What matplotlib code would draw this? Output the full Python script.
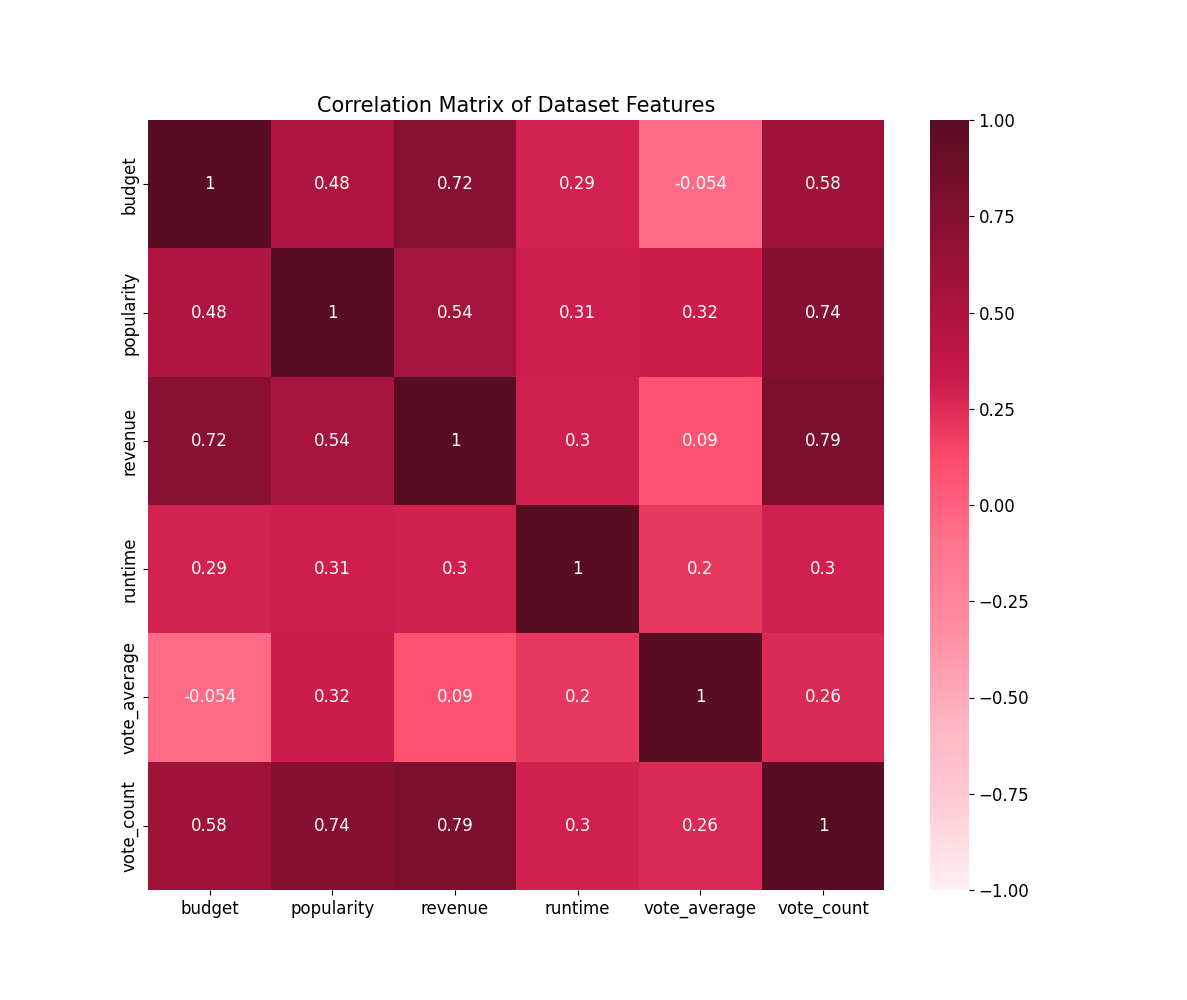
import numpy as np
import pandas as pd
import matplotlib
matplotlib.use("Agg")
import matplotlib.pyplot as plt
import seaborn as sns
from matplotlib.colors import LinearSegmentedColormap

features = ["budget", "popularity", "revenue", "runtime", "vote_average", "vote_count"]

budget = [1, 0.48, 0.72, 0.29, -0.054, 0.58]
popularity = [0.48, 1, 0.54, 0.31, 0.32, 0.74]
revenue = [0.72, 0.54, 1, 0.3, 0.09, 0.79]
runtime = [0.29, 0.31, 0.3, 1, 0.2, 0.3]
vote_average = [-0.054, 0.32, 0.09, 0.2, 1, 0.26]
vote_count = [0.58, 0.74, 0.79, 0.3, 0.26, 1]

corr = pd.DataFrame([budget, popularity, revenue, runtime, vote_average, vote_count],
                    index=features, columns=features)

# pink palette
colors = ["#fff0f3", "#ffccd5", "#ffb3c1", "#ff8fa3", "#ff758f",
          "#ff4d6d", "#c9184a", "#a4133c", "#800f2f", "#590d22"]
cmap = LinearSegmentedColormap.from_list("pinks", colors)

plt.figure(figsize=(11.87, 10))
sns.heatmap(corr, annot=True, cmap=cmap, vmin=-1, vmax=1,
            annot_kws={"size": 12})
plt.title("Correlation Matrix of Dataset Features", fontsize=15)
plt.xticks(fontsize=12)
plt.yticks(fontsize=12)
cbar = plt.gcf().axes[-1]
cbar.tick_params(labelsize=12)
plt.savefig("out.png", dpi=100)
